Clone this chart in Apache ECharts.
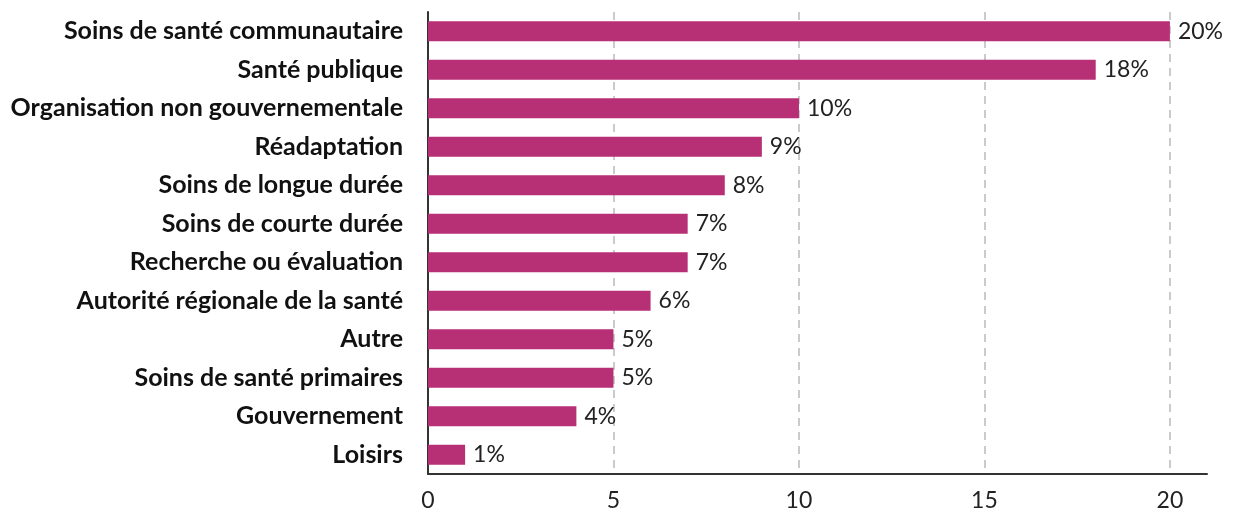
<!DOCTYPE html>
<html>
<head>
<meta charset="utf-8">
<script src="https://cdn.jsdelivr.net/npm/echarts@6/dist/echarts.min.js"></script>
<style>
  html, body { margin: 0; padding: 0; background: #fff; }
  #chart { width: 1233px; height: 516px; }
</style>
</head>
<body>
<div id="chart"></div>
<script>
const categories = [
  'Soins de santé communautaire',
  'Santé publique',
  'Organisation non gouvernementale',
  'Réadaptation',
  'Soins de longue durée',
  'Soins de courte durée',
  'Recherche ou évaluation',
  'Autorité régionale de la santé',
  'Autre',
  'Soins de santé primaires',
  'Gouvernement',
  'Loisirs'
];
const values = [20, 18, 10, 9, 8, 7, 7, 6, 5, 5, 4, 1];
const xTicks = [0, 5, 10, 15, 20];

const chart = echarts.init(document.getElementById('chart'));

chart.setOption({
  animation: false,
  grid: { left: 428, right: 26, top: 12, bottom: 42, containLabel: false },
  xAxis: {
    type: 'value',
    min: 0,
    max: 21,
    interval: 5,
    axisLine: { show: true, lineStyle: { color: '#333', width: 2 } },
    axisTick: { show: false },
    axisLabel: {
      margin: 15,
      fontFamily: 'Lato',
      fontSize: 23,
      color: '#222',
      formatter: v => (xTicks.includes(v) ? String(v) : '')
    },
    splitLine: {
      show: true,
      showMinLine: false,
      showMaxLine: false,
      lineStyle: { color: '#bbb', type: [8, 6], width: 1.5 }
    }
  },
  yAxis: {
    type: 'category',
    data: categories,
    inverse: true,
    axisLine: { show: true, lineStyle: { color: '#333', width: 2 } },
    axisTick: { show: false },
    axisLabel: {
      margin: 25,
      fontFamily: 'Lato',
      fontWeight: 'bold',
      fontSize: 25,
      color: '#111'
    },
    splitLine: { show: false }
  },
  series: [{
    type: 'bar',
    data: values,
    barWidth: 20,
    itemStyle: { color: '#b72f74' },
    label: {
      show: true,
      position: 'right',
      distance: 8,
      fontFamily: 'Lato',
      fontSize: 23,
      color: '#222',
      formatter: p => p.value + '%'
    }
  }]
});
</script>
</body>
</html>
